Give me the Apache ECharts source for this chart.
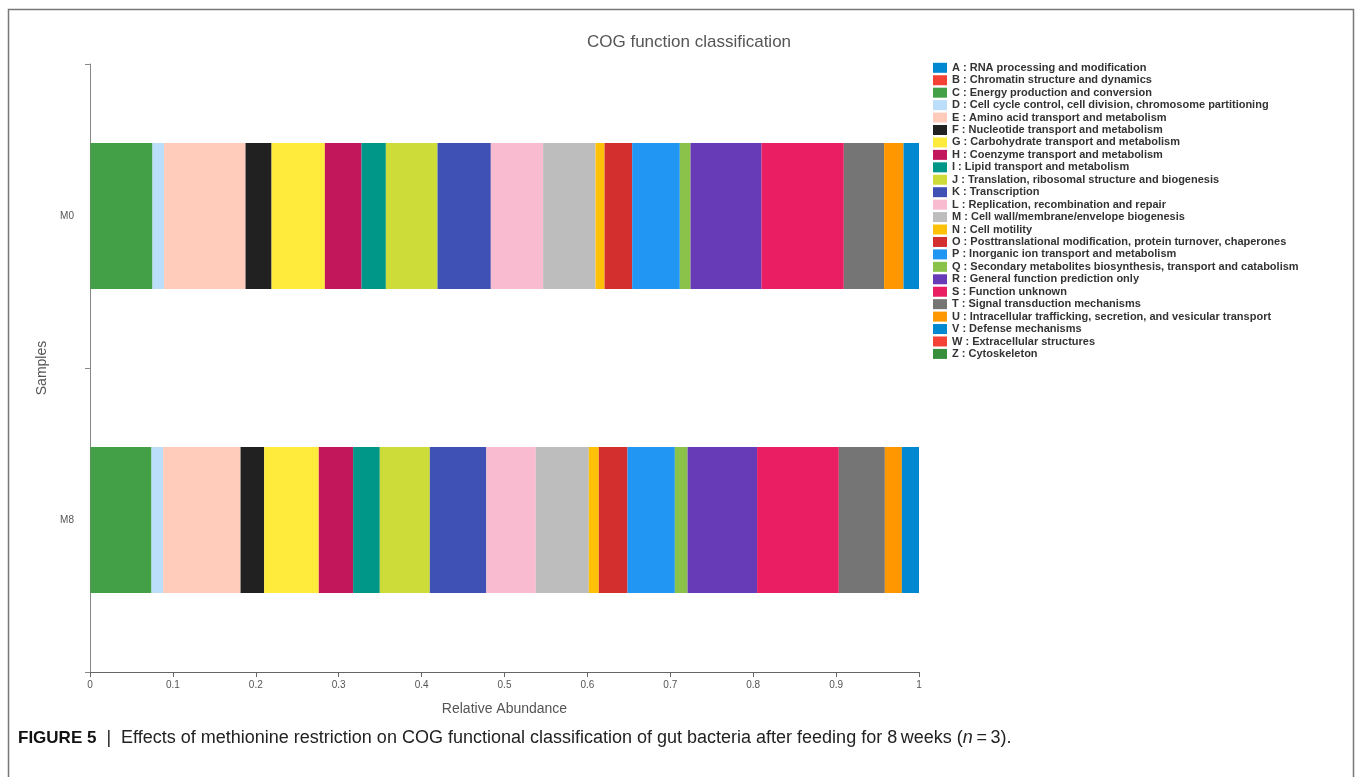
<!DOCTYPE html>
<html>
<head>
<meta charset="utf-8">
<script src="https://cdn.jsdelivr.net/npm/echarts@6/dist/echarts.min.js"></script>
<style>
html,body{margin:0;padding:0;background:#fff;}
#chart{width:1356px;height:777px;}
</style>
</head>
<body>
<div id="chart"></div>
<script>
const samples = ['M0', 'M8'];
const cogNames = [
  'A : RNA processing and modification',
  'B : Chromatin structure and dynamics',
  'C : Energy production and conversion',
  'D : Cell cycle control, cell division, chromosome partitioning',
  'E : Amino acid transport and metabolism',
  'F : Nucleotide transport and metabolism',
  'G : Carbohydrate transport and metabolism',
  'H : Coenzyme transport and metabolism',
  'I : Lipid transport and metabolism',
  'J : Translation, ribosomal structure and biogenesis',
  'K : Transcription',
  'L : Replication, recombination and repair',
  'M : Cell wall/membrane/envelope biogenesis',
  'N : Cell motility',
  'O : Posttranslational modification, protein turnover, chaperones',
  'P : Inorganic ion transport and metabolism',
  'Q : Secondary metabolites biosynthesis, transport and catabolism',
  'R : General function prediction only',
  'S : Function unknown',
  'T : Signal transduction mechanisms',
  'U : Intracellular trafficking, secretion, and vesicular transport',
  'V : Defense mechanisms',
  'W : Extracellular structures',
  'Z : Cytoskeleton'
];
const cogColors = [
  '#0288D1', '#F44336', '#43A047', '#BBDEFB', '#FFCCBC', '#212121',
  '#FFEB3B', '#C2185B', '#009688', '#CDDC39', '#3F51B5', '#F8BBD0',
  '#BDBDBD', '#FFC107', '#D32F2F', '#2196F3', '#8BC34A', '#673AB7',
  '#E91E63', '#757575', '#FF9800', '#0288D1', '#F44336', '#388E3C'
];
// relative abundance per COG category (order A..Z)
const valuesM0 = [0.0002, 0.0002, 0.0750, 0.0140, 0.0982, 0.0314, 0.0643, 0.0442, 0.0294, 0.0623, 0.0643, 0.0631,
                  0.0632, 0.0109, 0.0333, 0.0575, 0.0129, 0.0857, 0.0992, 0.0486, 0.0234, 0.0191, 0.0001, 0.0001];
const valuesM8 = [0.0002, 0.0002, 0.0738, 0.0140, 0.0934, 0.0285, 0.0659, 0.0414, 0.0322, 0.0603, 0.0682, 0.0597,
                  0.0639, 0.0121, 0.0346, 0.0571, 0.0153, 0.0839, 0.0986, 0.0555, 0.0205, 0.0211, 0.0001, 0.0001];
const xTicks = ['0', '0.1', '0.2', '0.3', '0.4', '0.5', '0.6', '0.7', '0.8', '0.9', '1'];

const FONT = '"Liberation Sans", Arial, Helvetica, sans-serif';
const chart = echarts.init(document.getElementById('chart'), null, {renderer: 'canvas'});

const series = cogNames.map((name, i) => ({
  name: name,
  type: 'bar',
  stack: 'total',
  barWidth: '48%',
  itemStyle: {color: cogColors[i]},
  emphasis: {disabled: true},
  data: [valuesM0[i], valuesM8[i]]
}));

chart.setOption({
  animation: false,
  textStyle: {fontFamily: FONT},
  title: {
    text: 'COG function classification',
    left: 684,
    textAlign: 'center',
    top: 29,
    textStyle: {fontFamily: FONT, fontSize: 17, fontWeight: 'normal', color: '#555'}
  },
  legend: {
    orient: 'vertical',
    left: 933,
    top: 62.3,
    padding: 0,
    itemWidth: 14,
    itemHeight: 10,
    itemGap: 1.44,
    icon: 'rect',
    selectedMode: false,
    textStyle: {fontFamily: FONT, fontSize: 11, fontWeight: 'bold', color: '#333'},
    data: cogNames
  },
  grid: {left: 90, right: 437, top: 64, bottom: 105, containLabel: false},
  xAxis: {
    type: 'value',
    min: 0,
    max: 1,
    interval: 0.1,
    name: 'Relative Abundance',
    nameLocation: 'middle',
    nameGap: 30,
    nameTextStyle: {fontFamily: FONT, fontSize: 14, color: '#555'},
    axisLine: {show: true, lineStyle: {color: '#666', width: 1}},
    axisTick: {show: true, length: 5, lineStyle: {color: '#666'}},
    axisLabel: {
      fontSize: 10, color: '#555', margin: 8,
      formatter: v => xTicks[Math.round(v * 10)]
    },
    splitLine: {show: false}
  },
  yAxis: {
    type: 'category',
    inverse: true,
    data: samples,
    name: 'Samples',
    nameLocation: 'middle',
    nameGap: 37,
    nameRotate: 90,
    nameTextStyle: {fontFamily: FONT, fontSize: 14, color: '#555'},
    axisLine: {show: true, lineStyle: {color: '#888', width: 1}},
    axisTick: {show: true, length: 5, lineStyle: {color: '#888'}},
    axisLabel: {fontSize: 10, color: '#555', margin: 16}
  },
  series: series,
  graphic: [
    {
      type: 'rect',
      shape: {x: 8.5, y: 9.5, width: 1345, height: 820},
      style: {fill: 'none', stroke: '#777', lineWidth: 1.5},
      silent: true
    },
    {
      type: 'text',
      left: 18,
      top: 729,
      style: {
        text: '{b|FIGURE 5}{n|  |  Effects of methionine restriction on COG functional classification of gut bacteria after feeding for 8\u2009weeks (}{i|n}{n|\u2009=\u20093).}',
        rich: {
          b: {fontFamily: FONT, fontSize: 17, fontWeight: 'bold', fill: '#111'},
          n: {fontFamily: FONT, fontSize: 18, fill: '#222'},
          i: {fontFamily: FONT, fontSize: 18, fontStyle: 'italic', fill: '#222'}
        }
      },
      silent: true
    }
  ]
});
</script>
</body>
</html>
